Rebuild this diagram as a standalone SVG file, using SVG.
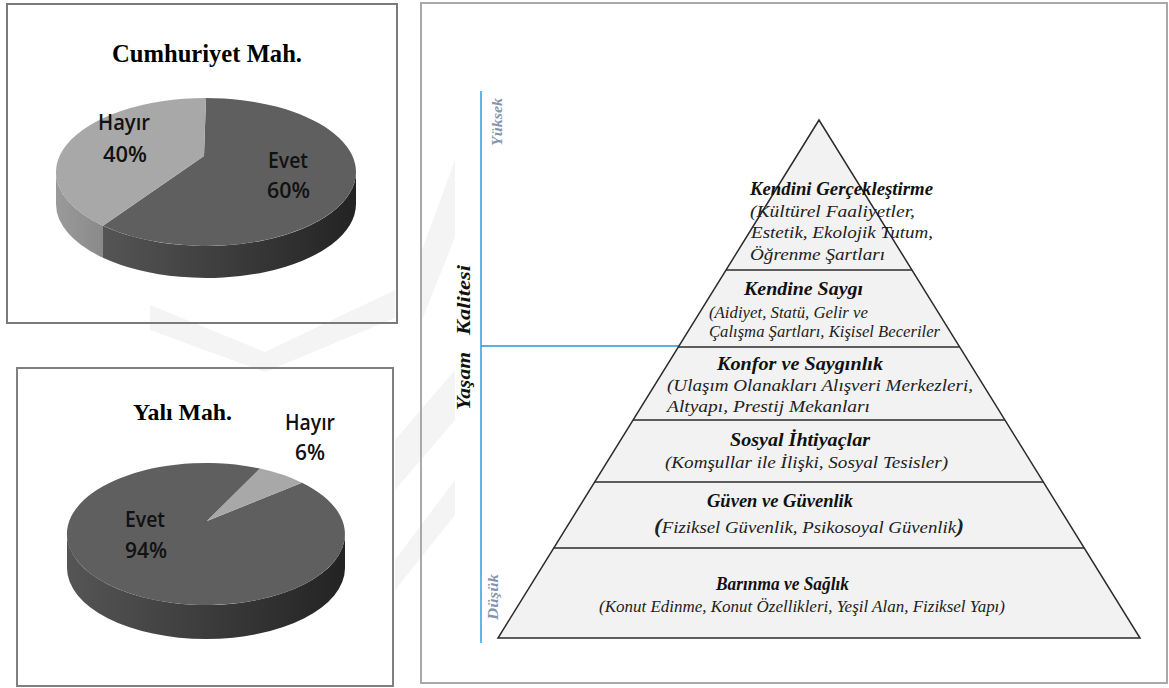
<svg xmlns="http://www.w3.org/2000/svg" width="1169" height="688" viewBox="0 0 1169 688">
<defs>
<style>
.box{fill:none;stroke-width:2}
.ptitle{font-family:"Liberation Serif",serif;font-weight:bold;fill:#000}
.plab{font-family:"Open Sans","Liberation Sans",sans-serif;font-size:22px;font-weight:600;fill:#111}
.tt{font-family:"Liberation Serif",serif;font-weight:bold;font-style:italic;font-size:18px;fill:#111}
.st{font-family:"Liberation Serif",serif;font-style:italic;font-size:16px;fill:#222}
.ax{font-family:"Liberation Serif",serif;font-weight:bold;font-style:italic;font-size:15px;fill:#8496ad}
.axm{font-family:"Liberation Serif",serif;font-weight:bold;font-style:italic;font-size:19px;fill:#111}
.div{stroke:#2b2b2b;stroke-width:1.5}
.blue{stroke:#1b9ad8;stroke-width:1.4;fill:none}
.wm{fill:#f4f4f4}
</style>
<linearGradient id="sideDark" x1="0" y1="0" x2="1" y2="0">
<stop offset="0" stop-color="#555"/>
<stop offset="1" stop-color="#232323"/>
</linearGradient>
<linearGradient id="sideLight" x1="0" y1="0" x2="1" y2="0">
<stop offset="0" stop-color="#9a9a9a"/>
<stop offset="1" stop-color="#8a8a8a"/>
</linearGradient>
</defs>
<rect width="1169" height="688" fill="#fff"/>
<g id="watermark">
<polygon class="wm" points="150,305 265,352 395,290 395,318 265,372 150,330"/>
<polygon class="wm" points="395,440 455,370 455,420 395,490"/>
<polygon class="wm" points="395,560 455,480 455,515 395,590"/>
<polygon class="wm" points="422,250 455,160 455,237 422,320"/>
</g>
<g id="chart-cumhuriyet">
<rect class="box" x="7" y="4" width="390" height="319" stroke="#7a7a7a"/>
<text class="ptitle" x="112" y="62" font-size="26" textLength="190" lengthAdjust="spacingAndGlyphs">Cumhuriyet Mah.</text>
<path d="M103,225.8 A150,74 0 0 0 356,172 L356,204 A150,74 0 0 1 103,257.8 Z" fill="url(#sideDark)"/>
<path d="M56,172 A150,74 0 0 0 103,225.8 L103,257.8 A150,74 0 0 1 56,204 Z" fill="url(#sideLight)"/>
<path d="M204,156 L206,98 A150,74 0 1 1 103,225.8 Z" fill="#5f5f5f"/>
<path d="M204,156 L103,225.8 A150,74 0 0 1 206,98 Z" fill="#a8a8a8"/>
<text class="plab" x="98" y="130" textLength="52" lengthAdjust="spacingAndGlyphs">Hayır</text>
<text class="plab" x="103" y="162" textLength="44" lengthAdjust="spacingAndGlyphs">40%</text>
<text class="plab" x="268" y="168" textLength="40" lengthAdjust="spacingAndGlyphs">Evet</text>
<text class="plab" x="267" y="198" textLength="43" lengthAdjust="spacingAndGlyphs">60%</text>
</g>
<g id="chart-yali">
<rect class="box" x="17" y="368" width="376" height="318" stroke="#808080"/>
<text class="ptitle" x="133" y="420" font-size="23" textLength="99" lengthAdjust="spacingAndGlyphs">Yalı Mah.</text>
<path d="M67,534 A139,71 0 0 0 345,534 L345,568 A139,71 0 0 1 67,568 Z" fill="url(#sideDark)"/>
<path d="M207,521 L302,482.7 A139,71 0 1 1 260,468.6 Z" fill="#5f5f5f"/>
<path d="M207,521 L260,468.6 A139,71 0 0 1 302,482.7 Z" fill="#a8a8a8"/>
<text class="plab" x="285" y="430" textLength="50" lengthAdjust="spacingAndGlyphs">Hayır</text>
<text class="plab" x="295" y="460" textLength="30" lengthAdjust="spacingAndGlyphs">6%</text>
<text class="plab" x="125" y="527" textLength="40" lengthAdjust="spacingAndGlyphs">Evet</text>
<text class="plab" x="125" y="558" textLength="42" lengthAdjust="spacingAndGlyphs">94%</text>
</g>
<g id="pyramid-panel">
<rect class="box" x="421" y="3" width="746" height="680" stroke="#a9a9a9"/>
</g>
<g id="connectors">
<line class="blue" x1="481" y1="91" x2="481" y2="643"/>
<line class="blue" x1="481" y1="346" x2="679" y2="346"/>
</g>
<g id="axis-labels">
<text class="ax" transform="translate(502,122) rotate(-90)" text-anchor="middle" textLength="48" lengthAdjust="spacingAndGlyphs">Yüksek</text>
<text class="ax" transform="translate(498,597) rotate(-90)" text-anchor="middle" textLength="46" lengthAdjust="spacingAndGlyphs">Düşük</text>
<text class="axm" transform="translate(470,300) rotate(-90)" text-anchor="middle" textLength="70" lengthAdjust="spacingAndGlyphs">Kalitesi</text>
<text class="axm" transform="translate(470,381) rotate(-90)" text-anchor="middle" textLength="58" lengthAdjust="spacingAndGlyphs">Yaşam</text>
</g>
<g id="pyramid">
<polygon points="819,120 498,638 1140,638" fill="#f2f2f2" stroke="#2b2b2b" stroke-width="1.5" stroke-linejoin="miter"/>
<line class="div" x1="726" y1="270" x2="912" y2="270"/>
<line class="div" x1="678.3" y1="347" x2="959.7" y2="347"/>
<line class="div" x1="633.1" y1="420" x2="1004.9" y2="420"/>
<line class="div" x1="594.7" y1="482" x2="1043.3" y2="482"/>
<line class="div" x1="553.8" y1="548" x2="1084.2" y2="548"/>
</g>
<g id="tier-kendini">
<text class="tt" x="750" y="195" textLength="183" lengthAdjust="spacingAndGlyphs">Kendini Gerçekleştirme</text>
<text class="st" x="750" y="217" font-size="18" textLength="165" lengthAdjust="spacingAndGlyphs">(Kültürel Faaliyetler,</text>
<text class="st" x="751" y="238" font-size="18" textLength="182" lengthAdjust="spacingAndGlyphs">Estetik, Ekolojik Tutum,</text>
<text class="st" x="750" y="260" font-size="18" textLength="135" lengthAdjust="spacingAndGlyphs">Öğrenme Şartları</text>
</g>
<g id="tier-saygi">
<text class="tt" x="744" y="295" textLength="119" lengthAdjust="spacingAndGlyphs">Kendine Saygı</text>
<text class="st" x="709" y="318" font-size="15" textLength="159" lengthAdjust="spacingAndGlyphs">(Aidiyet, Statü, Gelir ve</text>
<text class="st" x="709" y="337" font-size="15" textLength="231" lengthAdjust="spacingAndGlyphs">Çalışma Şartları, Kişisel Beceriler</text>
</g>
<g id="tier-konfor">
<text class="tt" x="717" y="370" textLength="166" lengthAdjust="spacingAndGlyphs">Konfor ve Saygınlık</text>
<text class="st" x="667" y="391" font-size="17" textLength="306" lengthAdjust="spacingAndGlyphs">(Ulaşım Olanakları Alışveri Merkezleri,</text>
<text class="st" x="667" y="412" font-size="17" textLength="203" lengthAdjust="spacingAndGlyphs">Altyapı, Prestij Mekanları</text>
</g>
<g id="tier-sosyal">
<text class="tt" x="730" y="446" textLength="140" lengthAdjust="spacingAndGlyphs">Sosyal İhtiyaçlar</text>
<text class="st" x="665" y="468" font-size="17" textLength="283" lengthAdjust="spacingAndGlyphs">(Komşullar ile İlişki, Sosyal Tesisler)</text>
</g>
<g id="tier-guven">
<text class="tt" x="707" y="507" textLength="146" lengthAdjust="spacingAndGlyphs">Güven ve Güvenlik</text>
<text class="st" x="654" y="533" font-size="17" textLength="310" lengthAdjust="spacingAndGlyphs"><tspan font-weight="bold" font-size="20">(</tspan>Fiziksel Güvenlik, Psikosoyal Güvenlik<tspan font-weight="bold" font-size="20">)</tspan></text>
</g>
<g id="tier-barinma">
<text class="tt" x="716" y="590" textLength="133" lengthAdjust="spacingAndGlyphs">Barınma ve Sağlık</text>
<text class="st" x="599" y="612" font-size="14" textLength="406" lengthAdjust="spacingAndGlyphs">(Konut Edinme, Konut Özellikleri, Yeşil Alan, Fiziksel Yapı)</text>
</g>
</svg>
